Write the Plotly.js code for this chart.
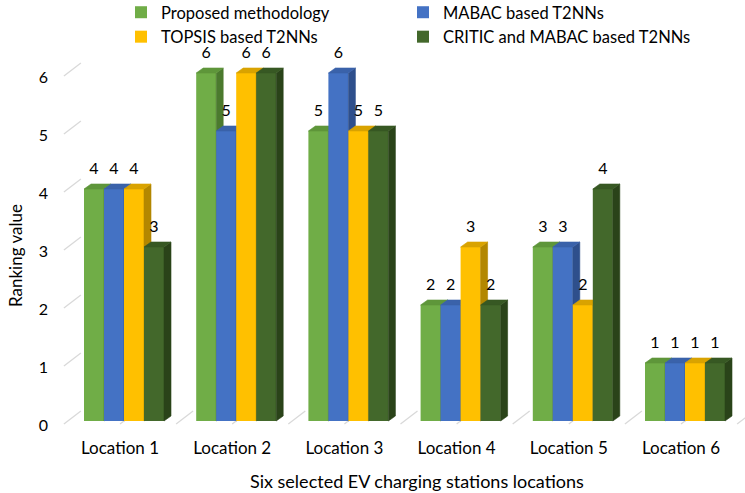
<!DOCTYPE html>
<html>
<head>
<meta charset="utf-8">
<script src="https://cdn.plot.ly/plotly-3.0.1.min.js"></script>
<style>html,body{margin:0;padding:0;background:#fff}</style>
</head>
<body>
<div id="chart" style="width:745px;height:493px"></div>
<script>
// Ranking of six EV charging station locations under four methods
const locations = ['Location 1', 'Location 2', 'Location 3', 'Location 4', 'Location 5', 'Location 6'];
const proposed = [4, 6, 5, 2, 3, 1];
const mabac = [4, 5, 6, 2, 3, 1];
const topsis = [4, 6, 5, 3, 2, 1];
const criticMabac = [3, 6, 5, 2, 4, 1];
const yTicks = [0, 1, 2, 3, 4, 5, 6];
const seriesNames = ['Proposed methodology', 'MABAC based T2NNs', 'TOPSIS based T2NNs', 'CRITIC and MABAC based T2NNs'];
const seriesValues = [proposed, mabac, topsis, criticMabac];
// legend column for each series (two columns, two rows)
const legendOf = ['legend', 'legend2', 'legend', 'legend2'];

// face colours: front, top, right side
const palette = [
  {front: '#70AD47', top: '#5E963A', side: '#4B7A2E'},
  {front: '#4472C4', top: '#3A62AA', side: '#2E4F8C'},
  {front: '#FFC000', top: '#D9A300', side: '#B38700'},
  {front: '#43682B', top: '#375823', side: '#2A4319'}
];

// ---- geometry (pixels) ----
const W = 745, H = 493;
const M = {l: 55, r: 0, t: 40, b: 63, autoexpand: false};
const plotW = W - M.l - M.r, plotH = H - M.t - M.b;
const PX_X = 112.2;          // px per category
const PX_Y = 58;             // px per ranking unit
const X0PX = 124, Y0PX = 421; // category 0 centre / baseline of the bar front plane
const BAR_PX = 20;           // bar width
const DEPTH = {x: 7, y: 5};  // bar depth offset (right, up)
const WALL_FRONT = {x: -4, y: -3}; // front edge of floor / side wall
const WALL_BACK = {x: 13, y: 10};  // back wall
const LABEL_GAP = 19;        // value label centre above the bar front top

const ux = p => p / PX_X, uy = p => p / PX_Y;
const BW = ux(BAR_PX);
const offsets = seriesValues.map((_, s) => ux(-2 * BAR_PX + s * BAR_PX));
const catIdx = locations.map((_, i) => i);

const xRange = [(M.l - X0PX) / PX_X, (W - M.r - X0PX) / PX_X];
const yRange = [(Y0PX - (H - M.b)) / PX_Y, (Y0PX - M.t) / PX_Y];

const fontFam = 'Lato, "Open Sans", sans-serif';
const traces = [];

seriesValues.forEach((vals, s) => {
  const xa = 'x' + (s + 2), ya = 'y' + (s + 2);
  const c = palette[s];
  // front faces
  traces.push({
    type: 'bar', name: seriesNames[s], x: catIdx, y: vals, legend: legendOf[s],
    width: BW, offset: offsets[s], xaxis: xa, yaxis: ya,
    marker: {color: c.front, line: {width: 0}}, hoverinfo: 'skip'
  });
  // right side faces and top faces
  const sx = [], sy = [], tx = [], ty = [];
  const dX = ux(DEPTH.x), dY = uy(DEPTH.y);
  vals.forEach((v, j) => {
    const xl = j + offsets[s], xr = xl + BW;
    sx.push(xr, xr + dX, xr + dX, xr, xr, null);
    sy.push(0, dY, v + dY, v, 0, null);
    tx.push(xl, xr, xr + dX, xl + dX, xl, null);
    ty.push(v, v, v + dY, v + dY, v, null);
  });
  traces.push({type: 'scatter', mode: 'lines', x: sx, y: sy, fill: 'toself',
    fillcolor: c.side, line: {color: c.side, width: 0.6}, xaxis: xa, yaxis: ya,
    showlegend: false, hoverinfo: 'skip'});
  traces.push({type: 'scatter', mode: 'lines', x: tx, y: ty, fill: 'toself',
    fillcolor: c.top, line: {color: c.top, width: 0.6}, xaxis: xa, yaxis: ya,
    showlegend: false, hoverinfo: 'skip'});
});

// value labels, drawn on the top-most overlay
seriesValues.forEach((vals, s) => {
  traces.push({
    type: 'scatter', mode: 'text', xaxis: 'x5', yaxis: 'y5',
    x: vals.map((v, j) => j + offsets[s] + BW / 2),
    y: vals.map(v => v + uy(LABEL_GAP)),
    text: vals.map(v => String(v)),
    textposition: 'middle center',
    textfont: {family: fontFam, size: 16, color: '#000'},
    showlegend: false, hoverinfo: 'skip'
  });
});

// floor and side-wall edge lines
const shapes = [];
const edge = (u, v) => ({
  type: 'line', xref: 'x2', yref: 'y2', layer: 'below',
  x0: u + ux(WALL_FRONT.x), y0: v + uy(WALL_FRONT.y),
  x1: u + ux(WALL_BACK.x), y1: v + uy(WALL_BACK.y),
  line: {color: '#D9D9D9', width: 1.3}
});
yTicks.forEach(k => shapes.push(edge(-0.5, k)));
for (let k = 1; k <= 2 * locations.length; k++) shapes.push(edge(-0.5 + 0.5 * k, 0));

// back wall axes
const wallLeftPx = X0PX + WALL_BACK.x - 0.5 * PX_X;
const wallBasePx = Y0PX - WALL_BACK.y;
const gridCol = '#D9D9D9';
const hidden = {showgrid: false, zeroline: false, showline: false, showticklabels: false, ticks: '', fixedrange: true};
const legendFont = {family: fontFam, size: 16.5, color: '#000'};
const legendBase = {orientation: 'v', xanchor: 'left', yanchor: 'top', traceorder: 'normal',
  font: legendFont, bgcolor: 'rgba(0,0,0,0)', borderwidth: 0};
const legendTop = ((H - M.b) + 5) / plotH;

const layout = {
  width: W, height: H, margin: M,
  paper_bgcolor: '#fff', plot_bgcolor: 'rgba(0,0,0,0)',
  font: {family: fontFam, color: '#000'},
  showlegend: true, hovermode: false,
  xaxis: {
    domain: [(wallLeftPx - M.l) / plotW, 1],
    range: [-0.5, (W - M.r - X0PX - WALL_BACK.x) / PX_X],
    anchor: 'y', tick0: -0.5, dtick: 0.5, showgrid: true, gridcolor: gridCol, gridwidth: 1.3,
    zeroline: false, showline: true, mirror: true, linecolor: gridCol, linewidth: 1.3,
    showticklabels: false, ticks: '', fixedrange: true
  },
  yaxis: {
    domain: [((H - M.b) - wallBasePx) / plotH, ((H - M.b) - (wallBasePx - 6 * PX_Y)) / plotH],
    range: [0, 6], anchor: 'x', tick0: 0, dtick: 1, showgrid: true, gridcolor: gridCol, gridwidth: 1.3,
    zeroline: false, showline: true, linecolor: gridCol, linewidth: 1.3,
    showticklabels: false, ticks: '', fixedrange: true
  },
  xaxis2: {
    domain: [0, 1], range: xRange, anchor: 'y2',
    tickvals: catIdx, ticktext: locations, ticks: '', showgrid: false, zeroline: false, showline: false,
    tickfont: {family: fontFam, size: 17, color: '#000'}, ticklabelshift: -4, ticklabelstandoff: 6,
    fixedrange: true
  },
  yaxis2: {
    domain: [0, 1], range: yRange, anchor: 'x2',
    tickvals: yTicks, ticks: '', showgrid: false, zeroline: false, showline: false,
    tickfont: {family: fontFam, size: 16, color: '#000'}, ticklabelshift: 4, ticklabelstandoff: 6,
    fixedrange: true
  },
  shapes: shapes,
  legend: Object.assign({}, legendBase, {x: (121 - M.l) / plotW, y: legendTop}),
  legend2: Object.assign({}, legendBase, {x: (403 - M.l) / plotW, y: legendTop}),
  annotations: [
    {text: 'Ranking value', xref: 'paper', yref: 'paper', textangle: -90,
     x: (15 - M.l) / plotW, y: ((H - M.b) - 256) / plotH, xanchor: 'center', yanchor: 'middle',
     showarrow: false, font: {family: fontFam, size: 17, color: '#000'}},
    {text: 'Six selected EV charging stations locations', xref: 'paper', yref: 'paper',
     x: (417 - M.l) / plotW, y: ((H - M.b) - 481) / plotH, xanchor: 'center', yanchor: 'middle',
     showarrow: false, font: {family: fontFam, size: 18, color: '#000'}}
  ]
};
[3, 4, 5].forEach(n => {
  layout['xaxis' + n] = Object.assign({}, hidden, {overlaying: 'x2', range: xRange, anchor: 'y' + n});
  layout['yaxis' + n] = Object.assign({}, hidden, {overlaying: 'y2', range: yRange, anchor: 'x' + n});
});

Plotly.newPlot('chart', traces, layout, {staticPlot: true, displayModeBar: false});
</script>
</body>
</html>
